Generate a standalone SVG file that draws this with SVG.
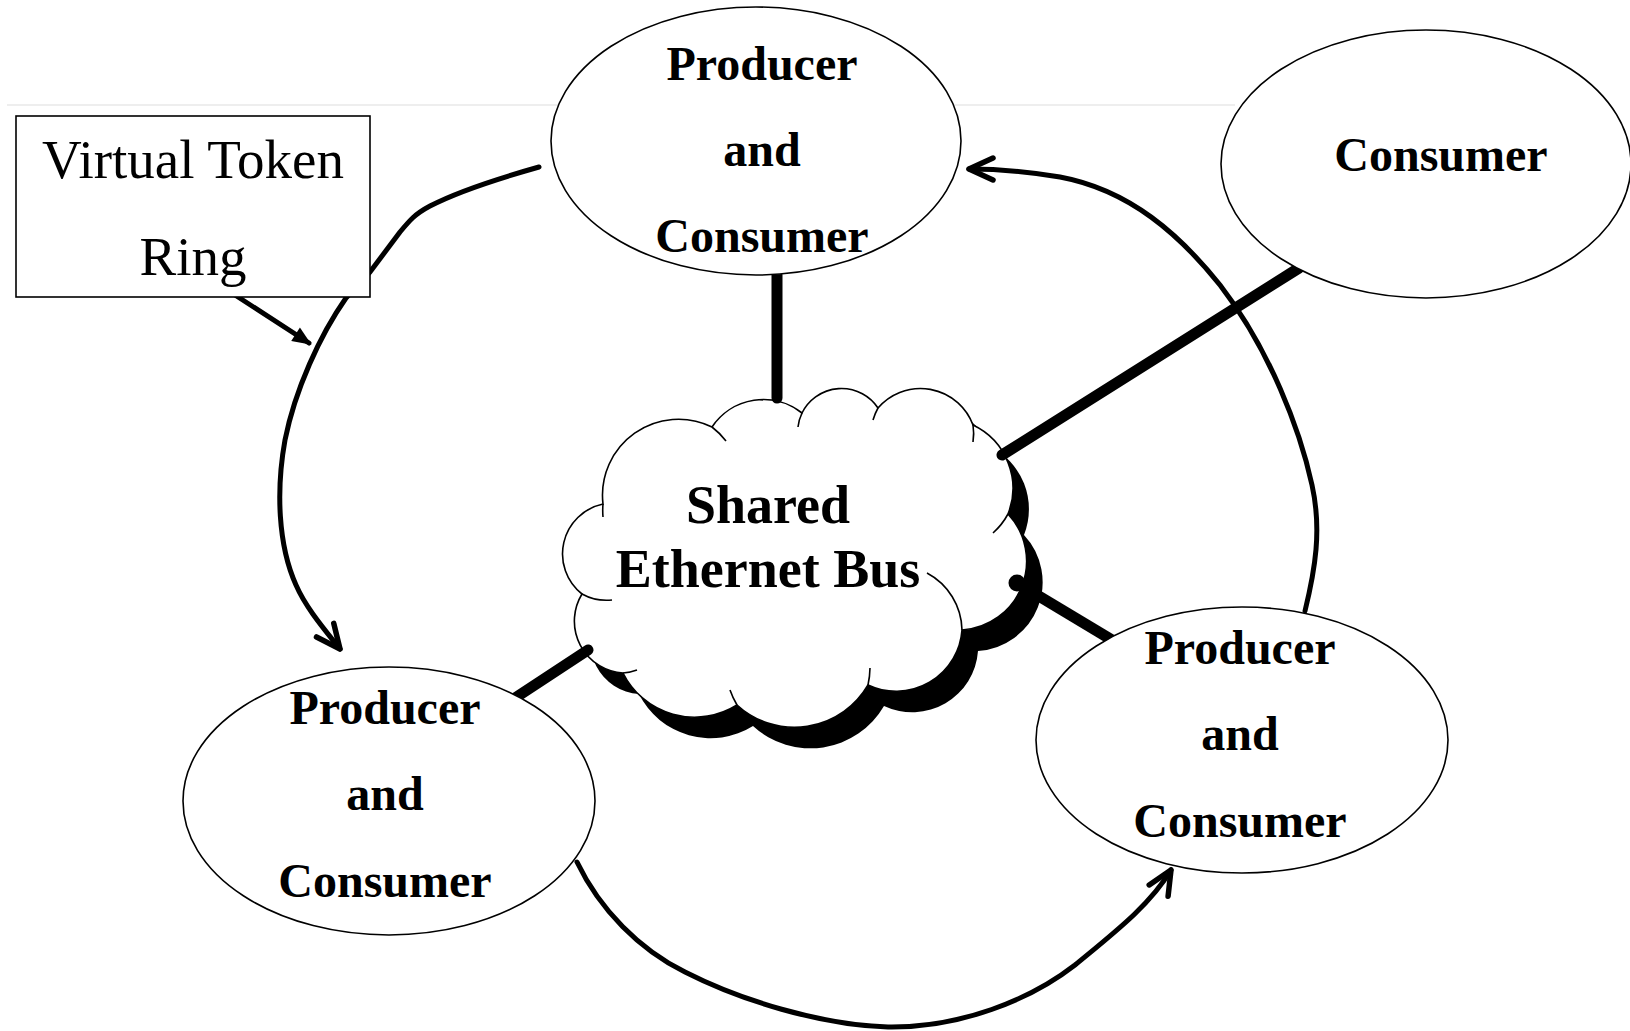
<svg xmlns="http://www.w3.org/2000/svg" xmlns:xlink="http://www.w3.org/1999/xlink" width="1630" height="1031" viewBox="0 0 1630 1031">
  <style>
    .node { fill: #fff; stroke: #000; stroke-width: 1.6; }
    .lbl { font-family: "Liberation Serif", "Times New Roman", serif; font-weight: bold; font-size: 48px; text-anchor: middle; fill: #000; }
    .cloudlbl { font-family: "Liberation Serif", "Times New Roman", serif; font-weight: bold; font-size: 54px; text-anchor: middle; fill: #000; }
    .boxlbl { font-family: "Liberation Serif", "Times New Roman", serif; font-size: 55px; text-anchor: middle; fill: #000; }
    .bus { stroke: #000; stroke-width: 11; stroke-linecap: round; fill: none; }
    .ring { stroke: #000; stroke-width: 5; stroke-linecap: round; stroke-linejoin: round; fill: none; }
    .tail { stroke: #000; stroke-width: 1.6; fill: none; }
  </style>
  <defs>
    <marker id="chev" markerUnits="userSpaceOnUse" markerWidth="60" markerHeight="60" viewBox="-40 -30 60 60" refX="0" refY="0" orient="auto" overflow="visible">
      <path d="M-24,-11 L0,0 L-24,11" fill="none" stroke="#000" stroke-width="5.5" stroke-linecap="round" stroke-linejoin="round"/>
    </marker>
    <marker id="tri" markerUnits="userSpaceOnUse" markerWidth="40" markerHeight="40" viewBox="-30 -20 40 40" refX="0" refY="0" orient="auto" overflow="visible">
      <path d="M3,0 L-16,-8 L-16,8 Z" fill="#000"/>
    </marker>
    <path id="cloudOutline" d="M603,504 A76,76 0 0 1 712,427 A62,62 0 0 1 802,413 A44,44 0 0 1 878,408 A56,56 0 0 1 973,425 A70,70 0 0 1 1008,514 A69,69 0 0 1 962,630 A66,66 0 0 1 868,685 A85,85 0 0 1 737,705 A80,80 0 0 1 623,673 A52,52 0 0 1 582,594 A51,51 0 0 1 603,504 Z"/>
  </defs>

  <rect width="1630" height="1031" fill="#fff"/>

  <!-- faint horizontal rule -->
  <line x1="7" y1="105" x2="1235" y2="105" stroke="#e8e8e8" stroke-width="1.5"/>

  <!-- shared bus cloud with drop shadow -->
  <g id="cloud">
    <use xlink:href="#cloudOutline" href="#cloudOutline" transform="translate(16,21)" fill="#000"/>
    <use xlink:href="#cloudOutline" href="#cloudOutline" fill="#fff" stroke="#000" stroke-width="1.6"/>
    <path class="tail" d="M603,517 A76,76 0 0 1 603,504"/>
    <path class="tail" d="M712,427 A76,76 0 0 1 726,441"/>
    <path class="tail" d="M798,427 A44,44 0 0 1 802,413"/>
    <path class="tail" d="M873,420 A56,56 0 0 1 878,408"/>
    <path class="tail" d="M973,425 A56,56 0 0 1 973,442"/>
    <path class="tail" d="M1008,514 A70,70 0 0 1 993,533"/>
    <path class="tail" d="M927,573 A66,66 0 0 1 962,630"/>
    <path class="tail" d="M870,668 A85,85 0 0 1 868,685"/>
    <path class="tail" d="M737,705 A85,85 0 0 1 730,690"/>
    <path class="tail" d="M637,670 A52,52 0 0 1 623,673"/>
    <path class="tail" d="M612,600 A51,51 0 0 1 582,594"/>
    <text class="cloudlbl" x="768" y="523">Shared</text>
    <text class="cloudlbl" x="768" y="587">Ethernet Bus</text>
  </g>

  <!-- connectors: bus drops and the virtual token ring -->
  <g id="connectors">
    <line class="bus" x1="777" y1="275" x2="777" y2="398" stroke-linecap="butt"/>
    <line class="bus" x1="1299" y1="268" x2="1002" y2="455"/>
    <line class="bus" x1="1017" y1="583" x2="1112" y2="640"/>
    <circle cx="1017" cy="583" r="8.5" fill="#000"/>
    <line class="bus" x1="588" y1="650" x2="515" y2="698" stroke-width="12"/>

    <path class="ring" marker-end="url(#chev)" d="M539,167 C500,178 455,193 430,206 C415,214 410,220 400,232 L370,272 L346,298 C320,335 295,390 285,440 C276,490 278,545 296,585 C306,608 325,630 340,649"/>
    <path class="ring" marker-end="url(#chev)" d="M577,862 C600,910 640,950 685,972 C740,1000 820,1025 888,1027 C960,1028 1030,1000 1075,965 C1115,932 1150,905 1171,870"/>
    <path class="ring" marker-end="url(#chev)" d="M1305,611 C1315,570 1322,530 1312,485 C1300,430 1270,350 1220,285 C1180,235 1130,190 1060,177 C1030,172 1000,169 969,169"/>
    <line class="ring" x1="235" y1="295" x2="309" y2="343" stroke-width="4.5" marker-end="url(#tri)"/>
  </g>

  <g id="node-top">
    <ellipse class="node" cx="756" cy="141" rx="205" ry="134"/>
    <text class="lbl" x="762" y="80">Producer</text>
    <text class="lbl" x="762" y="166">and</text>
    <text class="lbl" x="762" y="252">Consumer</text>
  </g>

  <g id="node-consumer">
    <ellipse class="node" cx="1426" cy="164" rx="205" ry="134"/>
    <text class="lbl" x="1441" y="171">Consumer</text>
  </g>

  <g id="node-left">
    <ellipse class="node" cx="389" cy="801" rx="206" ry="134"/>
    <text class="lbl" x="385" y="724">Producer</text>
    <text class="lbl" x="385" y="810">and</text>
    <text class="lbl" x="385" y="897">Consumer</text>
  </g>

  <g id="node-right">
    <ellipse class="node" cx="1242" cy="740" rx="206" ry="133"/>
    <text class="lbl" x="1240" y="664">Producer</text>
    <text class="lbl" x="1240" y="750">and</text>
    <text class="lbl" x="1240" y="837">Consumer</text>
  </g>

  <g id="token-ring-label">
    <rect class="node" x="16" y="116" width="354" height="181"/>
    <text class="boxlbl" x="193" y="178">Virtual Token</text>
    <text class="boxlbl" x="193" y="275">Ring</text>
  </g>
</svg>
